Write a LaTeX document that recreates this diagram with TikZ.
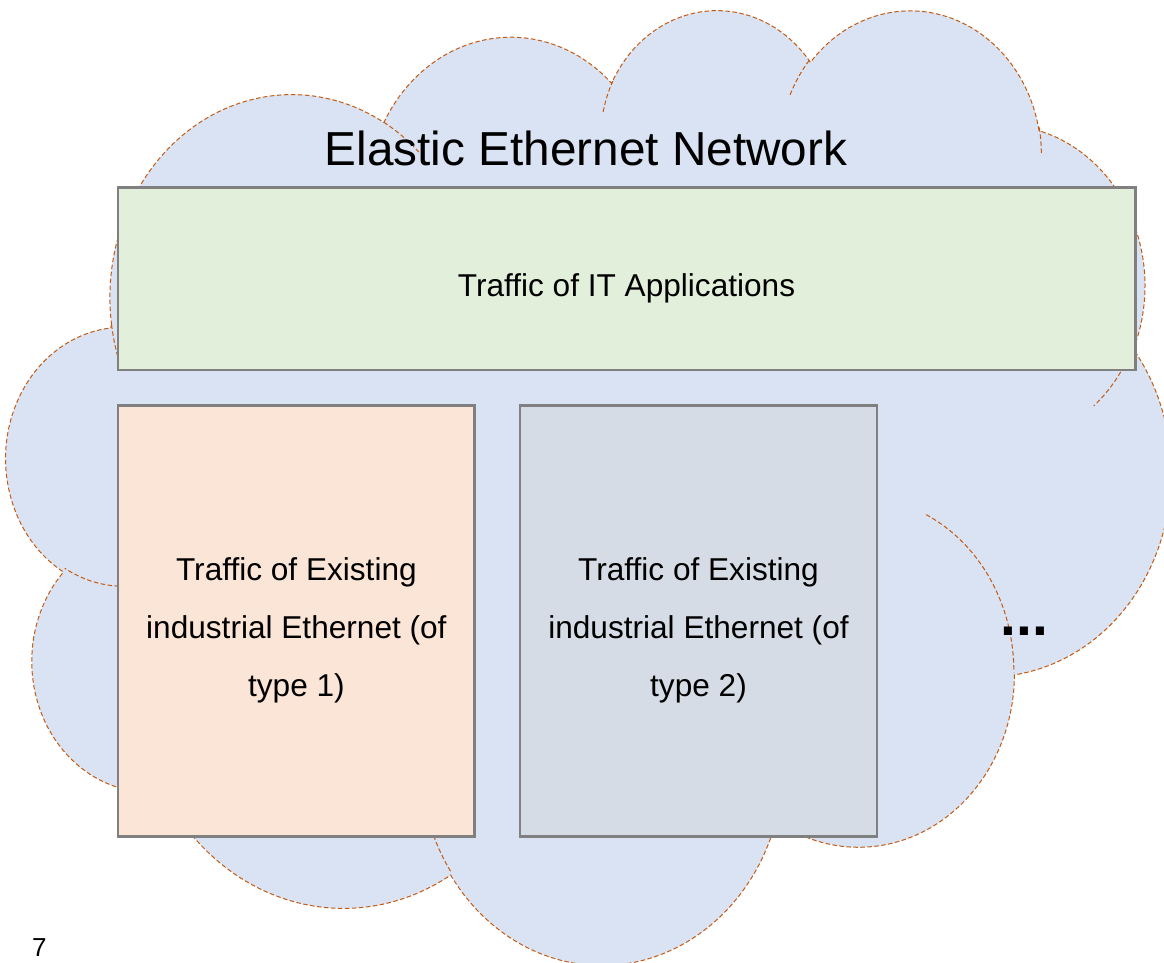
\documentclass[tikz,border=0pt]{standalone}
\usepackage{fontspec}
\setmainfont{Liberation Sans}
\definecolor{cloudfill}{RGB}{218,227,243}
\definecolor{cloudedge}{RGB}{197,90,17}
\definecolor{itfill}{RGB}{226,239,218}
\definecolor{onefill}{RGB}{250,229,214}
\definecolor{twofill}{RGB}{214,220,229}
\definecolor{boxedge}{RGB}{128,128,128}
\begin{document}
\begin{tikzpicture}[x=1pt,y=-1pt,
  cloudline/.style={draw=cloudedge, line width=1pt, dash pattern=on 4.5pt off 2.5pt},
  box/.style={draw=boxedge, line width=2.7pt, rectangle, inner sep=0pt},
  boxtext/.style={align=center, inner sep=0pt, font=\fontsize{31.6}{58.3}\selectfont}]
\useasboundingbox (0,0) rectangle (1164,962);

\begin{scope}
\clip (0,0) rectangle (1164,962);
% cloud outline in a 43200 x 43200 frame
\begin{scope}[shift={(6.5,7.5)}, x=0.02695pt, y=-0.0221pt]
\path[fill=cloudfill, cloudline] (3900,14370)
  arc[start angle=-187.745, end angle=-59.63,  x radius=6753, y radius=9190]
  arc[start angle=-152.03,  end angle=-45.45,  x radius=5333, y radius=7267]
  arc[start angle=-153.48,  end angle=-37.32,  x radius=4365, y radius=5945]
  arc[start angle=-139.71,  end angle=-10.21,  x radius=4857, y radius=6595]
  arc[start angle=-74.77,   end angle=23.21,   x radius=5333, y radius=7273]
  arc[start angle=-37.52,   end angle=81.86,   x radius=6775, y radius=9220]
  arc[start angle=0.46,     end angle=121.97,  x radius=5785, y radius=7867]
  arc[start angle=16.84,    end angle=146.23,  x radius=6752, y radius=9215]
  arc[start angle=58.99,    end angle=150.20,  x radius=7720, y radius=10543]
  arc[start angle=83.31,    end angle=223.10,  x radius=4360, y radius=5918]
  arc[start angle=120.36,   end angle=264.11,  x radius=4345, y radius=5945]
  -- cycle;
% inner folds of the cloud
\path[cloudline]
  (4693,26177)  arc[start angle=85.546,  end angle=120.36,  x radius=4345, y radius=5945]
  (6928,34899)  arc[start angle=68.23,   end angle=83.31,   x radius=4360, y radius=5918]
  (16478,39090) arc[start angle=146.23,  end angle=158.47,  x radius=6752, y radius=9215]
  (28827,34751) arc[start angle=4.737,   end angle=16.84,   x radius=6752, y radius=9215]
  (34129,22954) arc[start angle=-64.03,  end angle=0.46,    x radius=5785, y radius=7867]
  (41798,15354) arc[start angle=23.21,   end angle=49.64,   x radius=5333, y radius=7273]
  (38324,5426)  arc[start angle=-10.21,  end angle=0.82,    x radius=4857, y radius=6595]
  (29078,3952)  arc[start angle=-156.29, end angle=-139.71, x radius=4857, y radius=6595]
  (22141,4720)  arc[start angle=-167.73, end angle=-153.48, x radius=4365, y radius=5945]
  (14000,5192)  arc[start angle=-59.63,  end angle=-45.73,  x radius=6753, y radius=9190]
  (4127,15789)  arc[start angle=163.19,  end angle=172.25,  x radius=6753, y radius=9190];
\end{scope}
\end{scope}

% title
\node[anchor=base, inner sep=0pt, font=\fontsize{47.7}{57}\selectfont] (title) at (586,165) {Elastic Ethernet Network};

% traffic blocks
\node[box, fill=itfill, minimum width=1017.4pt, minimum height=182.7pt] (it) at (626.7,278.65) {};
\node[box, fill=onefill, minimum width=356.7pt, minimum height=431.4pt] (one) at (296.35,621) {};
\node[box, fill=twofill, minimum width=357pt, minimum height=431.4pt] (two) at (698.5,621) {};

\node[anchor=base, inner sep=0pt, font=\fontsize{31.6}{38}\selectfont] (itlabel) at (626.5,296.7) {Traffic of IT Applications};
\node[boxtext] (onelabel) at (296.4,630.2) {Traffic of Existing\\industrial Ethernet (of\\type 1)};
\node[boxtext] (twolabel) at (698.5,630.2) {Traffic of Existing\\industrial Ethernet (of\\type 2)};

\node[anchor=base, inner sep=0pt, font=\bfseries\fontsize{57}{60}\selectfont] (more) at (1024.7,635) {...};

% page number
\node[anchor=base west, inner sep=0pt, text depth=0pt, font=\fontsize{26}{30}\selectfont] (pagenum) at (32,956) {7};
\end{tikzpicture}
\end{document}
